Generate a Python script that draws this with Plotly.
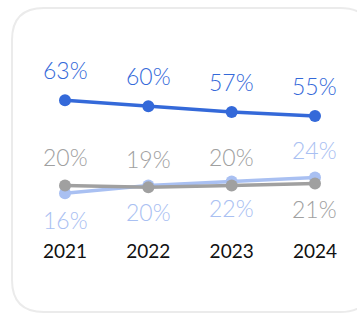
import plotly.graph_objects as go

years = ["2021", "2022", "2023", "2024"]
series_a = [63, 60, 57, 55]   # dark blue
series_b = [16, 20, 22, 24]   # light blue
series_c = [20, 19, 20, 21]   # gray

col_a = "#3469D9"
col_b = "#A9C0F2"
col_c = "#A0A0A0"

xs = list(range(len(years)))
FONT = "Lato"

fig = go.Figure()
for vals, col in [(series_b, col_b), (series_c, col_c), (series_a, col_a)]:
    fig.add_trace(go.Scatter(
        x=xs, y=vals, mode="lines+markers",
        line=dict(color=col, width=3.5),
        marker=dict(color=col, size=12),
        hoverinfo="skip", showlegend=False, cliponaxis=False,
    ))

annos = []
for vals, col, shifts in [
    (series_a, col_a, [30, 30, 30, 30]),
    (series_b, col_b, [-27, -27, -27, 27]),
    (series_c, col_c, [28, 28, 28, -26]),
]:
    for i, v in enumerate(vals):
        annos.append(dict(
            x=xs[i], y=v, xref="x", yref="y", text=f"{v}%",
            showarrow=False, yshift=shifts[i],
            font=dict(family=FONT, size=23, color=col, weight=300),
        ))

W, H = 357, 317
L, R, T, B = 0, 0, 0, 82
pw, ph = W - L - R, H - T - B
def px(x):
    return (x - L) / pw
def py(y):
    return 1 - (y - T) / ph

x0, y0, x1, y1, r = 12, 8, 372, 312, 32
path = (f"M {px(x0 + r)},{py(y0)} L {px(x1 - r)},{py(y0)} "
        f"Q {px(x1)},{py(y0)} {px(x1)},{py(y0 + r)} L {px(x1)},{py(y1 - r)} "
        f"Q {px(x1)},{py(y1)} {px(x1 - r)},{py(y1)} L {px(x0 + r)},{py(y1)} "
        f"Q {px(x0)},{py(y1)} {px(x0)},{py(y1 - r)} L {px(x0)},{py(y0 + r)} "
        f"Q {px(x0)},{py(y0)} {px(x0 + r)},{py(y0)} Z")

fig.update_layout(
    width=W, height=H,
    margin=dict(l=L, r=R, t=T, b=B),
    paper_bgcolor="white", plot_bgcolor="rgba(0,0,0,0)",
    annotations=annos,
    shapes=[dict(type="path", path=path, xref="paper", yref="paper",
                 line=dict(color="#EBEBEB", width=2), layer="below")],
    xaxis=dict(range=[-65 / 83.33, (W - 65) / 83.33], tickvals=xs, ticktext=years,
               showgrid=False, zeroline=False, showline=False, ticks="",
               ticklabelstandoff=3,
               tickfont=dict(family=FONT, size=19, color="#111111", weight=400),
               fixedrange=True),
    yaxis=dict(range=[-5.05, 113.6], visible=False, fixedrange=True),
)

fig.write_html("out.html", config={"displayModeBar": False},
               post_script="document.body.style.margin='0';document.body.style.overflow='hidden';")
